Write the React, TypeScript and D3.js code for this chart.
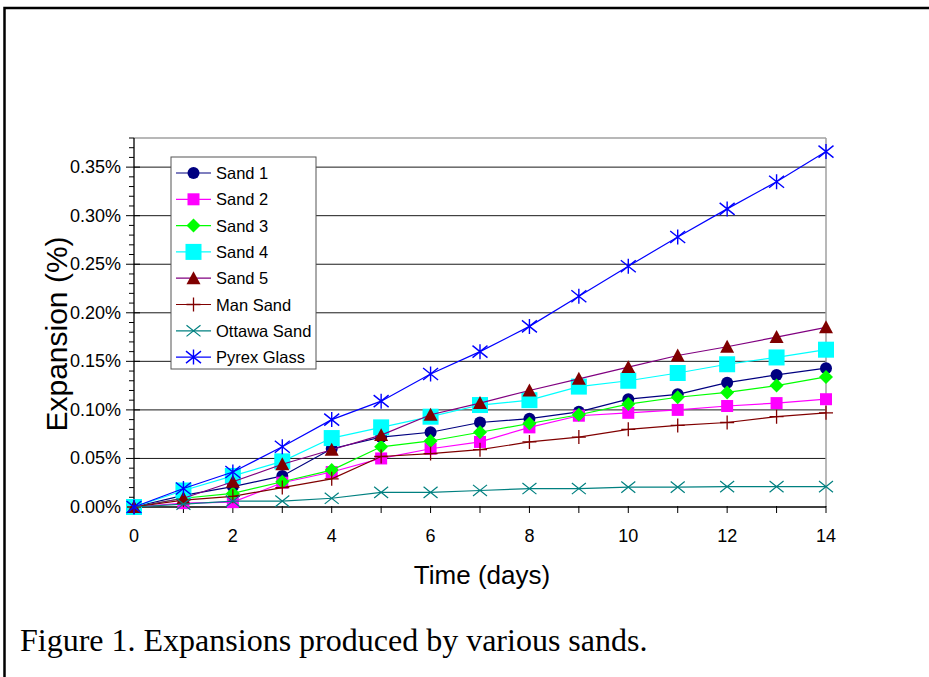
import React from "react";
import * as d3 from "d3";

const days = [0, 1, 2, 3, 4, 5, 6, 7, 8, 9, 10, 11, 12, 13, 14];
const xTickLabels = [0, 2, 4, 6, 8, 10, 12, 14];
const yTicks = [0, 0.05, 0.1, 0.15, 0.2, 0.25, 0.3, 0.35];

// expansion values in percent, one per day
const sand1 = [0, 0.012, 0.021, 0.032, 0.06, 0.072, 0.077, 0.087, 0.091, 0.098, 0.111, 0.116, 0.128, 0.136, 0.143];
const sand2 = [0, 0.004, 0.005, 0.025, 0.036, 0.05, 0.06, 0.067, 0.082, 0.094, 0.097, 0.1, 0.104, 0.107, 0.111];
const sand3 = [0, 0.009, 0.014, 0.026, 0.038, 0.062, 0.068, 0.077, 0.086, 0.095, 0.106, 0.113, 0.118, 0.125, 0.134];
const sand4 = [0, 0.017, 0.032, 0.047, 0.071, 0.082, 0.093, 0.105, 0.11, 0.124, 0.13, 0.138, 0.147, 0.154, 0.162];
const sand5 = [0, 0.009, 0.026, 0.044, 0.059, 0.074, 0.095, 0.107, 0.12, 0.132, 0.144, 0.156, 0.165, 0.175, 0.185];
const manSand = [0, 0.007, 0.011, 0.02, 0.029, 0.052, 0.055, 0.059, 0.067, 0.072, 0.08, 0.084, 0.087, 0.093, 0.097];
const ottawaSand = [0, 0.003, 0.006, 0.006, 0.009, 0.015, 0.015, 0.017, 0.019, 0.019, 0.0205, 0.0205, 0.021, 0.021, 0.021];
const pyrexGlass = [0, 0.019, 0.036, 0.062, 0.09, 0.109, 0.137, 0.16, 0.186, 0.217, 0.248, 0.278, 0.307, 0.335, 0.366];

const seriesNames = ["Sand 1", "Sand 2", "Sand 3", "Sand 4", "Sand 5", "Man Sand", "Ottawa Sand", "Pyrex Glass"];
const seriesValues = [sand1, sand2, sand3, sand4, sand5, manSand, ottawaSand, pyrexGlass];

type Style = { line: string; marker: string; shape: string; size: number };
const styles: Style[] = [
  { line: "#000080", marker: "#000080", shape: "circle", size: 12 },
  { line: "#FF00FF", marker: "#FF00FF", shape: "square", size: 12 },
  { line: "#00FF00", marker: "#00FF00", shape: "diamond", size: 14 },
  { line: "#00FFFF", marker: "#00FFFF", shape: "square", size: 16 },
  { line: "#800080", marker: "#800000", shape: "triangle", size: 14 },
  { line: "#800000", marker: "#800000", shape: "plus", size: 14 },
  { line: "#008080", marker: "#008080", shape: "x", size: 14 },
  { line: "#0000FF", marker: "#0000FF", shape: "asterisk", size: 15 },
];

const font = "'Liberation Sans', Arial, sans-serif";

function Marker({ x, y, s }: { x: number; y: number; s: Style }) {
  const h = s.size / 2;
  switch (s.shape) {
    case "circle":
      return <circle cx={x} cy={y} r={h} fill={s.marker} />;
    case "square":
      return <rect x={x - h} y={y - h} width={s.size} height={s.size} fill={s.marker} />;
    case "diamond":
      return <path d={`M${x},${y - h}L${x + h},${y}L${x},${y + h}L${x - h},${y}Z`} fill={s.marker} />;
    case "triangle":
      return <path d={`M${x},${y - h}L${x + h},${y + h * 0.85}L${x - h},${y + h * 0.85}Z`} fill={s.marker} />;
    case "plus":
      return (
        <path d={`M${x - h},${y}H${x + h}M${x},${y - h}V${y + h}`} stroke={s.marker} strokeWidth={1.3} />
      );
    case "x":
      return (
        <path
          d={`M${x - h},${y - h * 0.8}L${x + h},${y + h * 0.8}M${x - h},${y + h * 0.8}L${x + h},${y - h * 0.8}`}
          stroke={s.marker}
          strokeWidth={1.2}
        />
      );
    default:
      return (
        <path
          d={`M${x - h},${y - h * 0.8}L${x + h},${y + h * 0.8}M${x - h},${y + h * 0.8}L${x + h},${y - h * 0.8}M${x},${y - h}V${y + h}`}
          stroke={s.marker}
          strokeWidth={1.4}
        />
      );
  }
}

export default function App() {
  const W = 929;
  const H = 677;
  const left = 134;
  const right = 826;
  const top = 138;
  const bottom = 507;

  const x = d3.scaleLinear().domain([0, 14]).range([left, right]);
  const y = d3.scaleLinear().domain([0, 0.38]).range([bottom, top]);
  const minorTicks = d3.range(0, 0.381, 0.01);

  const line = d3
    .line<number>()
    .x((_, i) => x(days[i]))
    .y((v) => y(v));

  const legX = 171;
  const legY = 157;
  const rowH = 26.3;

  return (
    <svg width={W} height={H} style={{ position: "absolute", left: 0, top: 0, background: "#fff" }}>
      <rect x={4.5} y={8} width={W + 20} height={H + 20} fill="none" stroke="#000" strokeWidth={2.5} />

      {/* gridlines */}
      {yTicks.slice(1).map((t) => (
        <line key={t} x1={left} x2={right} y1={y(t)} y2={y(t)} stroke="#1a1a1a" strokeWidth={1} />
      ))}
      {/* plot border */}
      <line x1={left} x2={right} y1={top} y2={top} stroke="#a0a0a0" strokeWidth={1.5} />
      <line x1={right} x2={right} y1={top} y2={bottom} stroke="#a0a0a0" strokeWidth={1.5} />

      {/* y axis */}
      <line x1={left} x2={left} y1={top} y2={bottom} stroke="#000" strokeWidth={1.3} />
      {minorTicks.map((t, i) => (
        <line
          key={i}
          x1={i % 5 === 0 ? left - 8 : left - 5}
          x2={i % 5 === 0 ? left + 6 : left}
          y1={y(t)}
          y2={y(t)}
          stroke="#000"
          strokeWidth={1}
        />
      ))}
      {yTicks.map((t) => (
        <text
          key={t}
          x={left - 13}
          y={y(t)}
          textAnchor="end"
          dominantBaseline="central"
          fontFamily={font}
          fontSize={18}
        >
          {d3.format(".2f")(t) + "%"}
        </text>
      ))}

      {/* x axis */}
      <line x1={left} x2={right} y1={bottom} y2={bottom} stroke="#000" strokeWidth={1.3} />
      {days.map((d) => (
        <line key={d} x1={x(d)} x2={x(d)} y1={bottom - 1} y2={bottom + 6} stroke="#000" strokeWidth={1} />
      ))}
      {xTickLabels.map((d) => (
        <text key={d} x={x(d)} y={542} textAnchor="middle" fontFamily={font} fontSize={18}>
          {d}
        </text>
      ))}

      {/* series */}
      {seriesValues.map((vals, si) => (
        <g key={seriesNames[si]}>
          <path d={line(vals) ?? ""} fill="none" stroke={styles[si].line} strokeWidth={1.2} />
          {vals.map((v, i) => (
            <Marker key={i} x={x(days[i])} y={y(v)} s={styles[si]} />
          ))}
        </g>
      ))}

      {/* legend */}
      <rect x={legX} y={legY} width={145} height={212} fill="#fff" stroke="#555" strokeWidth={1} />
      {seriesNames.map((name, i) => {
        const cy = legY + 16 + i * rowH;
        return (
          <g key={name}>
            <line x1={legX + 5} x2={legX + 40} y1={cy} y2={cy} stroke={styles[i].line} strokeWidth={1.2} />
            <Marker x={legX + 22.5} y={cy} s={styles[i]} />
            <text x={legX + 45} y={cy} dominantBaseline="central" fontFamily={font} fontSize={16.5}>
              {name}
            </text>
          </g>
        );
      })}

      {/* axis titles */}
      <text x={(left + right) / 2 + 2} y={584} textAnchor="middle" fontFamily={font} fontSize={26}>
        Time (days)
      </text>
      <text
        transform={`translate(67,334) rotate(-90)`}
        textAnchor="middle"
        fontFamily={font}
        fontSize={30}
      >
        Expansion (%)
      </text>

      <text x={20} y={651} fontFamily="'Liberation Serif', 'Times New Roman', serif" fontSize={32}>
        Figure 1. Expansions produced by various sands.
      </text>
    </svg>
  );
}
